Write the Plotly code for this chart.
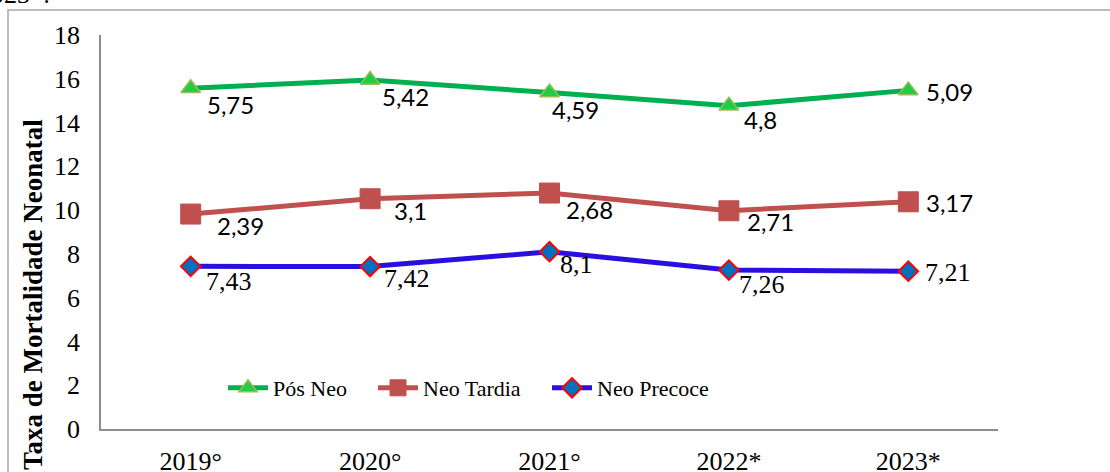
import plotly.graph_objects as go

categories = ["2019°", "2020°", "2021°", "2022*", "2023*"]
neo_precoce = [7.43, 7.42, 8.1, 7.26, 7.21]
neo_tardia = [2.39, 3.1, 2.68, 2.71, 3.17]
pos_neo = [5.75, 5.42, 4.59, 4.8, 5.09]
y_ticks = [0, 2, 4, 6, 8, 10, 12, 14, 16, 18]

# stacked line (cumulative) as in the original spreadsheet chart
cum_precoce = neo_precoce
cum_tardia = [a + b for a, b in zip(neo_precoce, neo_tardia)]
cum_pos = [a + b for a, b in zip(cum_tardia, pos_neo)]

def fmt(v):
    return ("%g" % v).replace(".", ",")

SERIF = "Liberation Serif, Times New Roman, serif"
L, R, T, B = 101, 112, 35, 43
PW, PH = 1110 - L - R, 472 - T - B

def px(x):
    return (x - L) / PW

def py(y):
    return (472 - B - y) / PH

fig = go.Figure()

fig.add_trace(go.Scatter(
    x=categories, y=cum_pos, name="Pós Neo", mode="lines+markers",
    line=dict(color="#00b050", width=5),
    marker=dict(symbol="triangle-up", size=17, color="#22cc44",
                line=dict(color="#9bbb59", width=1.5)),
    legend="legend",
))
fig.add_trace(go.Scatter(
    x=categories, y=cum_tardia, name="Neo Tardia", mode="lines+markers",
    line=dict(color="#c0504d", width=5),
    marker=dict(symbol="square", size=20, color="#c0504d",
                line=dict(color="#c0504d", width=1)),
    legend="legend2",
))
fig.add_trace(go.Scatter(
    x=categories, y=cum_precoce, name="Neo Precoce", mode="lines+markers",
    line=dict(color="#2a10e0", width=5),
    marker=dict(symbol="diamond", size=15, color="#0070c0",
                line=dict(color="#ff0000", width=2)),
    legend="legend3",
))

# label offsets (pixels) : styling only
pos_off = [(14, -16), (10, -16), (0, -17), (13, -14), (16, -1)]
tar_off = [(24, -11), (22, -12), (14, -16), (16, -11), (16, -1)]
pre_off = [(13, -15), (12, -12), (8, -13), (8, -14), (15, -1)]

sans = dict(family="Lato, Open Sans, sans-serif", size=24, color="#000000")
serif = dict(family=SERIF, size=26, color="#000000")

annotations = []
for vals, cum, offs, font in [(pos_neo, cum_pos, pos_off, sans),
                              (neo_tardia, cum_tardia, tar_off, sans),
                              (neo_precoce, cum_precoce, pre_off, serif)]:
    for i, (v, c) in enumerate(zip(vals, cum)):
        annotations.append(dict(
            x=categories[i], y=c, text=fmt(v), showarrow=False,
            xanchor="left", yanchor="middle",
            xshift=offs[i][0], yshift=offs[i][1], font=font))

annotations.append(dict(
    xref="paper", yref="paper", x=px(33), y=py(295),
    text="<b>Taxa de Mortalidade Neonatal</b>", textangle=-90, showarrow=False,
    xanchor="center", yanchor="middle",
    font=dict(family=SERIF, size=27, color="#000000")))

annotations.append(dict(
    xref="paper", yref="paper", x=px(52), y=py(-6),
    text="2023*:", showarrow=False, xanchor="right", yanchor="middle",
    font=dict(family=SERIF, size=26, color="#000000")))

leg_font = dict(family=SERIF, size=22, color="#000000")
leg_common = dict(orientation="h", xanchor="left", yanchor="middle",
                  bgcolor="rgba(0,0,0,0)", font=leg_font, itemwidth=40)

fig.update_layout(
    width=1110, height=472,
    font=dict(family=SERIF, color="#000000"),
    margin=dict(l=L, r=R, t=T, b=B, autoexpand=False),
    paper_bgcolor="#ffffff", plot_bgcolor="#ffffff",
    showlegend=True,
    legend=dict(x=px(223), y=py(388), **leg_common),
    legend2=dict(x=px(373), y=py(388), **leg_common),
    legend3=dict(x=px(547), y=py(388), **leg_common),
    annotations=annotations,
    shapes=[dict(type="rect", xref="paper", yref="paper",
                 x0=px(8), x1=px(1115), y0=py(520), y1=py(10),
                 line=dict(color="#a6a6a6", width=1.5), layer="below")],
)

fig.update_xaxes(
    type="category", range=[-0.5, 4.5], showgrid=False, zeroline=False,
    showline=True, linecolor="#8c8c8c", linewidth=1.5, ticks="",
    tickfont=dict(family=SERIF, size=26, color="#000000"),
    ticklabelstandoff=8, automargin=False,
)
fig.update_yaxes(
    range=[0, 18], tickvals=y_ticks, showgrid=False, zeroline=False,
    showline=True, linecolor="#8c8c8c", linewidth=1.5, ticks="",
    tickfont=dict(family=SERIF, size=26, color="#000000"),
    ticklabelstandoff=14, automargin=False,
)

fig.write_html("out.html",
               config={"displayModeBar": False},
               post_script="document.body.style.margin='0';document.body.style.overflow='hidden';")
